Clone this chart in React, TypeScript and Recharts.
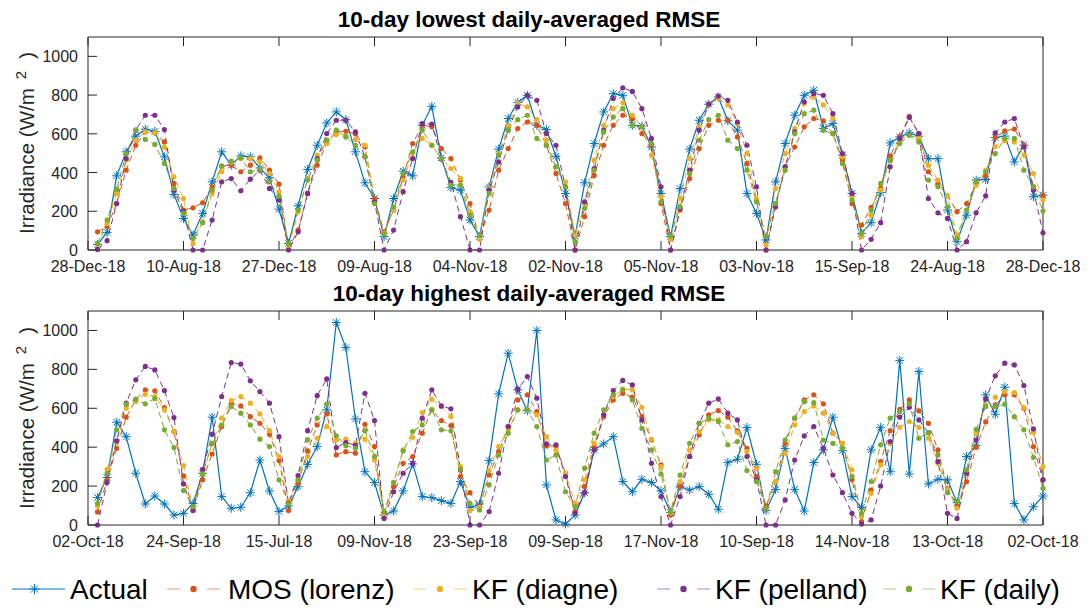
import { LineChart, Line, XAxis, YAxis } from "recharts";

const hours = Array.from({ length: 100 }, (_, i) => i + 1);
const xTicks = [0, 10, 20, 30, 40, 50, 60, 70, 80, 90, 100];
const yTicks = [0, 200, 400, 600, 800, 1000];

const lowLabels = ["28-Dec-18", "10-Aug-18", "27-Dec-18", "09-Aug-18", "04-Nov-18", "02-Nov-18", "05-Nov-18", "03-Nov-18", "15-Sep-18", "24-Aug-18", "28-Dec-18"];
const highLabels = ["02-Oct-18", "24-Sep-18", "15-Jul-18", "09-Nov-18", "23-Sep-18", "09-Sep-18", "17-Nov-18", "10-Sep-18", "14-Nov-18", "13-Oct-18", "02-Oct-18"];

// lowest RMSE days
const actualLow = [29, 91, 383, 507, 588, 624, 613, 481, 287, 163, 77, 189, 352, 507, 438, 486, 481, 424, 373, 211, 34, 228, 416, 541, 656, 713, 673, 507, 347, 266, 69, 266, 407, 383, 644, 742, 476, 323, 309, 155, 69, 326, 521, 679, 763, 799, 644, 622, 484, 292, 72, 347, 550, 713, 807, 799, 644, 641, 532, 292, 69, 318, 521, 670, 753, 790, 667, 619, 292, 189, 52, 352, 550, 696, 799, 825, 627, 653, 490, 292, 86, 141, 296, 553, 584, 605, 588, 472, 472, 206, 43, 180, 361, 364, 581, 588, 455, 541, 275, 283];
const mosLow = [94, 120, 240, 412, 541, 610, 605, 558, 344, 206, 218, 244, 326, 433, 438, 404, 438, 476, 412, 340, 9, 103, 292, 438, 550, 613, 613, 600, 532, 266, 94, 206, 378, 550, 644, 636, 524, 472, 361, 240, 60, 206, 412, 524, 627, 661, 644, 541, 395, 240, 0, 172, 385, 541, 644, 696, 679, 601, 541, 240, 0, 206, 369, 524, 644, 670, 670, 584, 447, 258, 0, 240, 430, 532, 636, 679, 667, 601, 464, 240, 129, 220, 318, 486, 584, 690, 601, 404, 344, 280, 198, 240, 344, 383, 581, 615, 625, 541, 326, 280];
const diagneLow = [17, 137, 292, 464, 567, 610, 605, 532, 378, 266, 34, 146, 292, 404, 455, 472, 472, 455, 395, 300, 9, 198, 369, 490, 550, 596, 588, 570, 541, 249, 86, 206, 361, 498, 576, 541, 472, 421, 369, 198, 55, 318, 498, 644, 756, 739, 673, 567, 430, 352, 77, 240, 464, 644, 730, 760, 696, 636, 490, 275, 55, 266, 472, 636, 749, 784, 749, 653, 498, 266, 26, 318, 498, 627, 756, 790, 749, 679, 481, 275, 69, 180, 309, 464, 567, 592, 576, 438, 361, 280, 77, 206, 335, 412, 533, 564, 558, 490, 395, 258];
const pellandLow = [3, 48, 240, 472, 619, 696, 696, 622, 309, 198, 0, 0, 155, 352, 369, 306, 366, 412, 318, 258, 0, 94, 292, 472, 601, 670, 670, 610, 481, 249, 0, 103, 301, 472, 653, 650, 470, 350, 172, 0, 0, 309, 455, 619, 739, 799, 773, 601, 541, 326, 0, 249, 421, 619, 782, 838, 819, 730, 576, 326, 0, 215, 412, 619, 753, 795, 773, 661, 541, 326, 0, 223, 430, 610, 765, 808, 799, 704, 498, 292, 0, 55, 141, 430, 576, 685, 601, 266, 192, 163, 0, 43, 192, 280, 605, 661, 679, 532, 309, 89];
const dailyLow = [34, 155, 313, 498, 619, 571, 545, 447, 318, 189, 60, 141, 309, 433, 459, 476, 404, 416, 352, 278, 34, 206, 361, 464, 567, 619, 584, 540, 481, 240, 82, 223, 395, 507, 619, 541, 472, 335, 335, 180, 77, 292, 490, 619, 673, 696, 576, 541, 430, 326, 43, 215, 412, 610, 687, 730, 644, 636, 550, 249, 72, 223, 395, 567, 673, 696, 567, 524, 412, 249, 69, 240, 412, 601, 704, 722, 619, 601, 447, 258, 86, 206, 344, 464, 550, 592, 558, 361, 326, 223, 60, 206, 352, 404, 498, 576, 576, 412, 326, 201];

// highest RMSE days
const actualHigh = [141, 244, 528, 454, 266, 108, 149, 108, 51, 60, 111, 266, 554, 146, 86, 91, 166, 334, 175, 69, 98, 197, 312, 403, 592, 1041, 912, 545, 274, 218, 51, 72, 175, 314, 146, 141, 125, 111, 223, 89, 108, 331, 674, 883, 695, 587, 1000, 206, 26, 5, 51, 166, 386, 417, 454, 223, 171, 235, 218, 175, 65, 197, 180, 197, 158, 81, 322, 338, 501, 312, 74, 183, 394, 183, 72, 321, 386, 554, 382, 146, 91, 386, 502, 274, 846, 262, 789, 211, 235, 232, 115, 352, 408, 669, 569, 708, 111, 26, 94, 149];
const mosHigh = [67, 232, 394, 554, 643, 695, 690, 604, 480, 252, 77, 232, 365, 506, 626, 612, 557, 523, 466, 331, 74, 214, 381, 514, 571, 360, 377, 369, 518, 403, 60, 197, 317, 352, 472, 592, 537, 511, 249, 166, 94, 257, 377, 506, 643, 669, 583, 406, 406, 266, 69, 197, 403, 557, 643, 677, 657, 557, 437, 309, 51, 197, 352, 463, 566, 588, 554, 484, 394, 249, 98, 223, 420, 549, 643, 669, 623, 472, 420, 232, 17, 180, 326, 485, 595, 643, 587, 523, 386, 189, 98, 223, 400, 530, 617, 669, 669, 600, 403, 232];
const diagneHigh = [98, 286, 429, 600, 635, 672, 660, 592, 480, 305, 82, 266, 420, 549, 640, 660, 626, 571, 485, 352, 120, 232, 352, 446, 506, 437, 441, 420, 441, 334, 46, 218, 386, 451, 578, 647, 609, 557, 300, 74, 91, 280, 403, 489, 592, 592, 566, 454, 386, 266, 111, 232, 420, 566, 660, 698, 695, 605, 441, 300, 63, 223, 386, 480, 540, 540, 506, 475, 377, 292, 86, 223, 369, 514, 583, 612, 575, 472, 420, 283, 43, 163, 309, 420, 502, 532, 502, 446, 317, 183, 86, 266, 472, 617, 657, 686, 681, 605, 475, 300];
const pellandHigh = [0, 218, 432, 626, 746, 815, 797, 691, 552, 211, 74, 286, 466, 660, 835, 827, 741, 686, 626, 454, 111, 254, 485, 665, 751, 398, 424, 410, 677, 537, 34, 171, 266, 317, 549, 695, 612, 597, 283, 0, 0, 69, 266, 506, 698, 763, 652, 417, 412, 249, 60, 166, 386, 566, 691, 743, 720, 540, 317, 146, 0, 146, 352, 523, 626, 648, 575, 540, 352, 232, 0, 0, 129, 334, 458, 506, 394, 257, 166, 60, 5, 26, 200, 429, 554, 605, 540, 475, 326, 60, 34, 266, 437, 647, 767, 832, 823, 717, 494, 232];
const dailyHigh = [111, 266, 489, 621, 647, 623, 650, 489, 398, 177, 94, 262, 417, 514, 609, 575, 514, 441, 403, 232, 108, 232, 437, 549, 621, 458, 408, 395, 484, 352, 69, 218, 381, 480, 514, 592, 489, 484, 286, 111, 77, 206, 360, 472, 592, 592, 506, 334, 360, 171, 94, 292, 472, 592, 669, 695, 643, 497, 386, 262, 69, 257, 420, 523, 549, 532, 412, 429, 280, 223, 86, 274, 437, 549, 634, 629, 437, 420, 394, 249, 60, 223, 412, 549, 583, 623, 446, 475, 360, 166, 120, 283, 492, 609, 609, 621, 557, 489, 348, 189];

const seriesNames = ["Actual", "MOS (lorenz)", "KF (diagne)", "KF (pelland)", "KF (daily)"];
const seriesKeys = ["actual", "mos", "diagne", "pelland", "daily"];
const colors = ["#0072BD", "#D95319", "#EDB120", "#7E2F8E", "#77AC30"];

const FONT = "'Liberation Sans', Arial, Helvetica, sans-serif";
const AX = "#262626";
const TICK = 9;

const buildRows = (a: number[], m: number[], d: number[], p: number[], dl: number[]) =>
  hours.map((h, i) => ({ x: h, actual: a[i], mos: m[i], diagne: d[i], pelland: p[i], daily: dl[i] }));

const lowRows = buildRows(actualLow, mosLow, diagneLow, pellandLow, dailyLow);
const highRows = buildRows(actualHigh, mosHigh, diagneHigh, pellandHigh, dailyHigh);

const Star = ({ cx, cy, color, r = 4.5 }: any) => {
  const d = r * 0.72;
  return (
    <g stroke={color} strokeWidth={1} strokeDasharray="none">
      <line x1={cx - r} x2={cx + r} y1={cy} y2={cy} />
      <line x1={cx} x2={cx} y1={cy - r} y2={cy + r} />
      <line x1={cx - d} x2={cx + d} y1={cy - d} y2={cy + d} />
      <line x1={cx - d} x2={cx + d} y1={cy + d} y2={cy - d} />
    </g>
  );
};

// height is chosen so the plot box lands on the same pixels as the reference
const Panel = ({ rows, labels, height }: { rows: any[]; labels: string[]; height: number }) => {
  const bottomTick = (p: any) => {
    const idx = xTicks.indexOf(p.payload.value);
    return (
      <g key={`bt${idx}`}>
        <line x1={p.x} x2={p.x} y1={p.y} y2={p.y - TICK} stroke={AX} />
        <text x={p.x} y={p.y + 22} textAnchor="middle" fill={AX} fontSize={16} fontFamily={FONT}>
          {labels[idx]}
        </text>
      </g>
    );
  };
  const topTick = (p: any) => (
    <line key={`tt${p.index}`} x1={p.x} x2={p.x} y1={p.y} y2={p.y + TICK} stroke={AX} />
  );
  const leftTick = (p: any) => (
    <g key={`lt${p.index}`}>
      <line x1={p.x} x2={p.x + TICK} y1={p.y} y2={p.y} stroke={AX} />
      <text x={p.x - 10} y={p.y + 6} textAnchor="end" fill={AX} fontSize={16} fontFamily={FONT}>
        {p.payload.value}
      </text>
    </g>
  );
  const rightTick = (p: any) => (
    <line key={`rt${p.index}`} x1={p.x} x2={p.x - TICK} y1={p.y} y2={p.y} stroke={AX} />
  );

  return (
    <LineChart width={1089} height={height} data={rows} margin={{ top: 0, right: 36, bottom: 0, left: 38 }}>
      <XAxis
        xAxisId="b"
        dataKey="x"
        type="number"
        domain={[0, 100]}
        ticks={xTicks}
        tickSize={0}
        tickMargin={0}
        height={30}
        tick={bottomTick}
        tickLine={false}
        axisLine={{ stroke: AX }}
        interval={0}
      />
      <XAxis
        xAxisId="t"
        orientation="top"
        dataKey="x"
        type="number"
        domain={[0, 100]}
        ticks={xTicks}
        tickSize={0}
        tickMargin={0}
        height={10}
        tick={topTick}
        tickLine={false}
        axisLine={{ stroke: AX }}
        interval={0}
      />
      <YAxis
        yAxisId="l"
        type="number"
        domain={[0, 1100]}
        ticks={yTicks}
        tickSize={0}
        tickMargin={0}
        width={50}
        tick={leftTick}
        tickLine={false}
        axisLine={{ stroke: AX }}
        interval={0}
      />
      <YAxis
        yAxisId="r"
        orientation="right"
        type="number"
        domain={[0, 1100]}
        ticks={yTicks}
        tickSize={0}
        tickMargin={0}
        width={10}
        tick={rightTick}
        tickLine={false}
        axisLine={{ stroke: AX }}
        interval={0}
      />
      {seriesKeys.map((k, si) => (
        <Line
          key={k}
          xAxisId="b"
          yAxisId="l"
          dataKey={k}
          name={seriesNames[si]}
          stroke={colors[si]}
          strokeWidth={si === 0 ? 1.2 : 1}
          strokeDasharray={si === 0 ? undefined : "6 4"}
          isAnimationActive={false}
          dot={(p: any) =>
            si === 0 ? (
              <Star key={`d${si}-${p.index}`} cx={p.cx} cy={p.cy} color={colors[si]} />
            ) : (
              <circle key={`d${si}-${p.index}`} cx={p.cx} cy={p.cy} r={2.6} fill={colors[si]} stroke="none" />
            )
          }
        />
      ))}
    </LineChart>
  );
};

const legendPos = [
  { x0: 12, x1: 65, tx: 70 },
  { x0: 167, x1: 220, tx: 228 },
  { x0: 413, x1: 467, tx: 472 },
  { x0: 657, x1: 710, tx: 715 },
  { x0: 883, x1: 935, tx: 940 },
];

const YLabel = ({ cx, cy }: { cx: number; cy: number }) => (
  <text
    transform={`translate(${cx},${cy}) rotate(-90)`}
    textAnchor="middle"
    fontSize={20.5}
    fontFamily={FONT}
    fill={AX}
  >
    Irradiance (W/m
    <tspan dx={9} dy={-8} fontSize={15}>2</tspan>
    <tspan dx={12} dy={8}>)</tspan>
  </text>
);

export default function App() {
  return (
    <div
      style={{
        position: "absolute",
        left: 0,
        top: 0,
        width: 1089,
        height: 608,
        overflow: "hidden",
        background: "#fff",
        fontFamily: FONT,
      }}
    >
      <div style={{ position: "absolute", left: 0, top: 27 }}>
        <Panel rows={lowRows} labels={lowLabels} height={253} />
      </div>
      <div style={{ position: "absolute", left: 0, top: 301 }}>
        <Panel rows={highRows} labels={highLabels} height={254} />
      </div>
      <svg width={1089} height={608} style={{ position: "absolute", left: 0, top: 0, pointerEvents: "none" }}>
        <text x={529} y={27} textAnchor="middle" fontSize={22.5} fontWeight="bold" fontFamily={FONT} fill="#000">
          10-day lowest daily-averaged RMSE
        </text>
        <text x={529} y={301} textAnchor="middle" fontSize={22.5} fontWeight="bold" fontFamily={FONT} fill="#000">
          10-day highest daily-averaged RMSE
        </text>
        <YLabel cx={34} cy={143} />
        <YLabel cx={34} cy={418} />
        {legendPos.map((p, i) => {
          const mid = (p.x0 + p.x1) / 2;
          return (
            <g key={seriesNames[i]}>
              {i === 0 ? (
                <>
                  <line x1={p.x0} x2={p.x1} y1={589} y2={589} stroke={colors[0]} strokeWidth={1.2} />
                  <Star cx={mid - 4} cy={589} color={colors[0]} r={5} />
                </>
              ) : (
                <>
                  <line x1={p.x0} x2={p.x0 + 13} y1={589} y2={589} stroke={colors[i]} strokeOpacity={0.6} />
                  <line x1={p.x1 - 13} x2={p.x1} y1={589} y2={589} stroke={colors[i]} strokeOpacity={0.6} />
                  <circle cx={mid} cy={589} r={3.2} fill={colors[i]} />
                </>
              )}
              <text x={p.tx} y={599} fontSize={28} fontFamily={FONT} fill="#000">
                {seriesNames[i]}
              </text>
            </g>
          );
        })}
      </svg>
    </div>
  );
}
